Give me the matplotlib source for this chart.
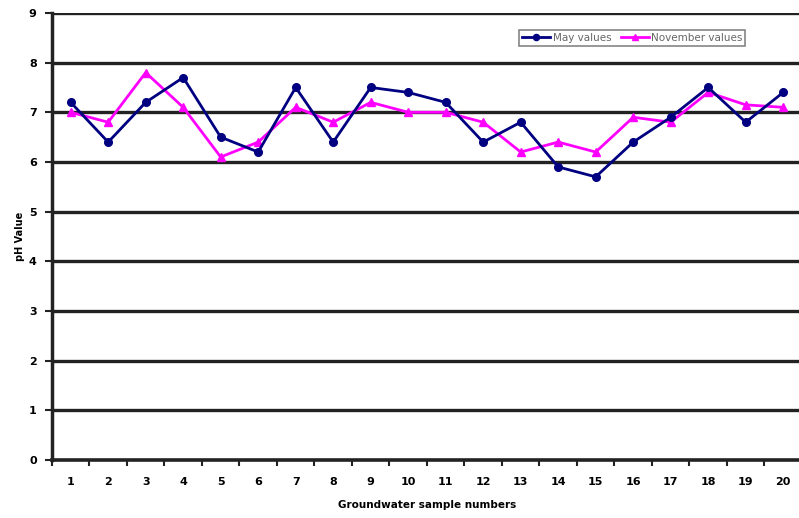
import numpy as np
import matplotlib.pyplot as plt

samples = np.arange(1, 21)
may_values = [7.2, 6.4, 7.2, 7.7, 6.5, 6.2, 7.5, 6.4, 7.5, 7.4,
              7.2, 6.4, 6.8, 5.9, 5.7, 6.4, 6.9, 7.5, 6.8, 7.4]
november_values = [7.0, 6.8, 7.8, 7.1, 6.1, 6.4, 7.1, 6.8, 7.2, 7.0,
                   7.0, 6.8, 6.2, 6.4, 6.2, 6.9, 6.8, 7.4, 7.15, 7.1]
y_ticks = list(range(0, 10))

fig = plt.figure(figsize=(7.99, 5.18), dpi=100)
ax = fig.add_axes([0.065, 0.112, 0.9387, 0.863])

for y in y_ticks[1:]:
    ax.axhline(y, color='#222222', lw=2.4, zorder=1)

ax.plot(samples, may_values, color='#000080', lw=2, marker='o', ms=5.5,
        label='May values', zorder=3)
ax.plot(samples, november_values, color='#FF00FF', lw=2, marker='^', ms=5.5,
        label='November values', zorder=2)

ax.set_xlim(0.5, 20.5)
ax.set_ylim(0, 9)
ax.set_yticks(y_ticks)
ax.set_xticks(samples)
ax.set_xticks(np.arange(0.5, 21, 1), minor=True)
ax.tick_params(axis='x', which='major', length=0, pad=12, labelsize=8)
ax.tick_params(axis='x', which='minor', length=4, width=1.5, color='#222222')
ax.tick_params(axis='y', length=5, width=1.5, color='#222222', labelsize=8, pad=6)
for lab in ax.get_xticklabels() + ax.get_yticklabels():
    lab.set_fontweight('bold')

for side in ['top', 'right']:
    ax.spines[side].set_visible(False)
ax.spines['left'].set_linewidth(2.5)
ax.spines['left'].set_color('#222222')
ax.spines['bottom'].set_linewidth(2.6)
ax.spines['bottom'].set_color('#222222')

ax.set_ylabel('pH Value', fontsize=7, fontweight='bold', labelpad=3)
ax.set_xlabel('Groundwater sample numbers', fontsize=7.5, fontweight='bold')
ax.xaxis.set_label_coords(0.5, -0.09)

leg = ax.legend(loc='upper left', bbox_to_anchor=(0.623, 0.962), ncol=2, fontsize=7.5,
                frameon=True, fancybox=False, edgecolor='#666666', borderpad=0.3,
                borderaxespad=0, handlelength=2.7, columnspacing=0.9,
                handletextpad=0.2, markerscale=0.8)
leg.get_frame().set_linewidth(1.2)
for txt in leg.get_texts():
    txt.set_color('#666666')

fig.savefig('out.png', dpi=100)
